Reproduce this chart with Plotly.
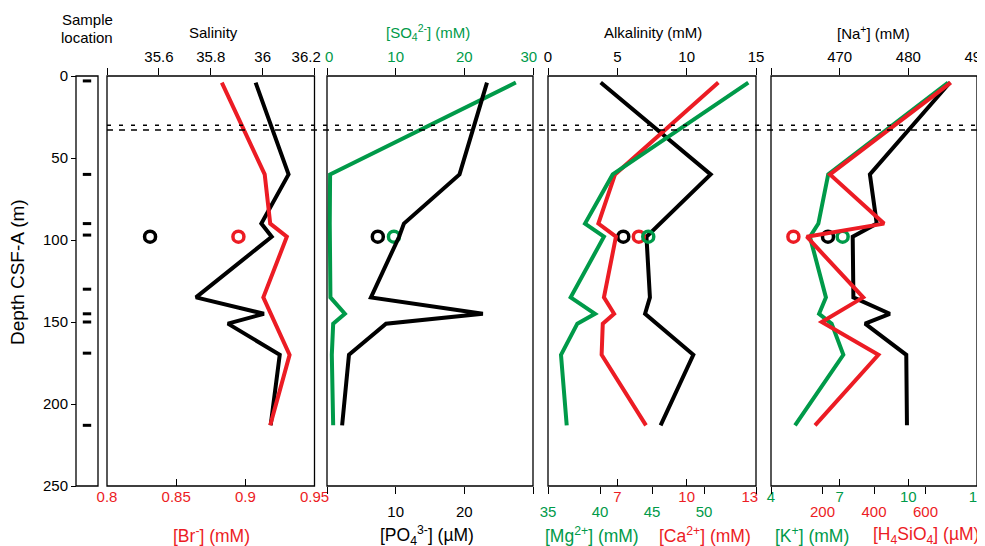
import plotly.graph_objects as go

# reference canvas is 985x546; the html body adds an 8px margin, so the figure
# is drawn 8px smaller and all reference pixel positions are shifted by 8px.
REF_W, REF_H = 985, 546
OFF = 8
W, H = REF_W - OFF, REF_H - OFF
def px(x): return (x - OFF) / W
def py(y): return 1 - (y - OFF) / H

RED = '#EC1C24'
GREEN = '#009A49'
BLACK = '#000000'
FONT = 'Liberation Sans, Arial, sans-serif'
NB = '\u00a0'

# ---------------- data ----------------
depth = [4, 60, 90, 98, 135, 145, 151, 170, 213]
sample_depths = [3, 60, 90, 97, 130, 145, 150, 169, 213]
interface_depths = [30, 33]

salinity = [35.973, 36.10, 35.995, 36.035, 35.743, 36.005, 35.866, 36.066, 36.031]
br_depth = [4, 60, 90, 98, 135, 170, 213]
br = [0.883, 0.914, 0.918, 0.930, 0.913, 0.932, 0.918]

po4 = [23.3, 19.3, 11.2, 10.5, 6.4, 22.7, 8.6, 3.2, 2.2]
so4 = [27.5, 0.45, 0.4, 0.4, 0.5, 2.6, 0.9, 0.7, 0.9]

alk_depth = [4, 60, 98, 135, 145, 170, 213]
alk = [3.8, 11.73, 7.1, 7.35, 7.0, 10.48, 8.12]
ca = [11.37, 6.9, 6.18, 6.94, 6.42, 6.86, 6.37, 6.32, 8.24]
mg = [54.26, 41.22, 38.56, 40.38, 37.18, 39.52, 37.82, 36.25, 36.8]

na = [486.06, 474.4, 475.4, 471.9, 472.0, 477.3, 473.7, 479.7, 479.8]
k = [11.74, 6.5, 6.07, 5.7, 6.4, 6.1, 6.65, 7.16, 5.05]
si_depth = [4, 60, 90, 98, 135, 150, 170, 213]
h4sio4 = [698, 229, 439, 139, 358, 197, 417, 171]

# isolated samples (open circles)
circle_depth = 98
circ_salinity, circ_br = 35.566, 0.895
circ_po4, circ_so4 = 7.4, 9.75
circ_alk, circ_ca, circ_mg = 5.43, 7.93, 44.64
circ_na, circ_k, circ_si = 468.3, 7.13, 87

fig = go.Figure()

def line(x, y, xa, color):
    fig.add_trace(go.Scatter(x=x, y=y, xaxis=xa, yaxis='y', mode='lines',
                             line=dict(color=color, width=4), showlegend=False,
                             hoverinfo='skip'))

def circ(x, xa, color):
    fig.add_trace(go.Scatter(x=[x], y=[circle_depth], xaxis=xa, yaxis='y', mode='markers',
                             marker=dict(symbol='circle-open', size=11, color=color,
                                         line=dict(width=3.5, color=color)),
                             showlegend=False, hoverinfo='skip'))

# sample location dashes
fig.add_trace(go.Scatter(x=[0.5] * len(sample_depths), y=sample_depths, xaxis='x', yaxis='y',
                         mode='markers', marker=dict(symbol='line-ew', size=6,
                                                     line=dict(width=3, color=BLACK)),
                         showlegend=False, hoverinfo='skip'))

line(salinity, depth, 'x2', BLACK)
line(br, br_depth, 'x3', RED)
line(po4, depth, 'x5', BLACK)
line(so4, depth, 'x4', GREEN)
line(alk, alk_depth, 'x6', BLACK)
line(ca, depth, 'x7', RED)
line(mg, depth, 'x8', GREEN)
line(na, depth, 'x9', BLACK)
line(k, depth, 'x10', GREEN)
line(h4sio4, si_depth, 'x11', RED)

circ(circ_salinity, 'x2', BLACK)
circ(circ_br, 'x3', RED)
circ(circ_po4, 'x5', BLACK)
circ(circ_so4, 'x4', GREEN)
circ(circ_alk, 'x6', BLACK)
circ(circ_ca, 'x7', RED)
circ(circ_mg, 'x8', GREEN)
circ(circ_na, 'x9', BLACK)
circ(circ_k, 'x10', GREEN)
circ(circ_si, 'x11', RED)

panels = {
    'strip': (76, 98),
    'p1': (107, 314.5),
    'p2': (327, 533),
    'p3': (548, 756),
    'p4': (771, 977),
}
Y_TOP, Y_BOT = 76, 486

def xax(dom=None, side='bottom', rng=None, vals=None, text=None, color=BLACK,
        ticks='outside', overlay=None, standoff=0):
    d = dict(side=side, range=rng, tickmode='array', tickvals=vals, ticktext=text,
             ticks=ticks, ticklen=7, tickwidth=1.3, tickcolor=BLACK,
             tickfont=dict(family=FONT, size=15, color=color),
             showgrid=False, zeroline=False, showline=False, anchor='y',
             automargin=False, fixedrange=True, ticklabelstandoff=standoff,
             ticklabeloverflow='allow')
    if overlay:
        d['overlaying'] = overlay
    else:
        d['domain'] = [px(dom[0]), px(dom[1])]
    return d

layout = dict(
    width=W, height=H, autosize=False, template='none',
    margin=dict(l=0, r=0, t=0, b=0),
    paper_bgcolor='white', plot_bgcolor='rgba(0,0,0,0)',
    showlegend=False,
    font=dict(family=FONT, size=15, color=BLACK),
    yaxis=dict(domain=[py(Y_BOT), py(Y_TOP)], range=[250, 0], anchor='free',
               position=px(76), tickmode='array', tickvals=[0, 50, 100, 150, 200, 250],
               ticks='outside', ticklen=5, tickwidth=1.3, tickcolor=BLACK,
               tickfont=dict(family=FONT, size=15), showgrid=False, zeroline=False,
               showline=False, automargin=False, fixedrange=True,
               ticklabeloverflow='allow'),
    xaxis=dict(domain=[px(76), px(98)], range=[0, 1], visible=False, anchor='y',
               fixedrange=True),
    xaxis2=xax(panels['p1'], 'top', [35.4, 36.2], [35.4, 35.6, 35.8, 36.0, 36.2],
               ['', '35.6', '35.8', '36', '36.2' + NB * 4]),
    xaxis3=xax(None, 'bottom', [0.8, 0.95], [0.8, 0.85, 0.9, 0.95],
               ['0.8', '0.85', '0.9', '0.95'], RED, 'inside', 'x2'),
    xaxis4=xax(panels['p2'], 'top', [0, 30], [0, 10, 20, 30],
               [NB + '0', '10', '20', '30' + NB * 2], GREEN),
    xaxis5=xax(None, 'bottom', [0, 30], [0, 10, 20, 30], ['', '10', '20', ''], BLACK,
               'outside', 'x4', 5),
    xaxis6=xax(panels['p3'], 'top', [0, 15], [0, 5, 10, 15], ['0', '5', '10', '15']),
    xaxis7=xax(None, 'bottom', [4, 13], [4, 7, 10, 13], ['', '7', '10', '13' + NB * 3], RED,
               'inside', 'x6'),
    xaxis8=xax(None, 'bottom', [35, 55], [35, 40, 45, 50, 55], ['35', '40', '45', '50', ''],
               GREEN, 'outside', 'x6', 5),
    xaxis9=xax(panels['p4'], 'top', [460, 490], [460, 470, 480, 490], ['', '470', '480', '490']),
    xaxis10=xax(None, 'bottom', [4, 13], [4, 7, 10, 13], ['4', '7', '10', '13'], GREEN,
                'inside', 'x9'),
    xaxis11=xax(None, 'bottom', [0, 800], [0, 200, 400, 600, 800], ['', '200', '400', '600', ''],
                RED, 'outside', 'x9', 5),
)
fig.update_layout(**layout)

# frames
shapes = []
for key, (x0, x1) in panels.items():
    shapes.append(dict(type='rect', xref='paper', yref='paper', x0=px(x0), x1=px(x1),
                       y0=py(Y_BOT), y1=py(Y_TOP), line=dict(color=BLACK, width=1.3),
                       fillcolor='rgba(0,0,0,0)', layer='above'))
# interface dashed lines
for d, dash in zip(interface_depths, ['4px,8px', '6px,6px']):
    shapes.append(dict(type='line', xref='paper', yref='y', x0=px(107), x1=px(977),
                       y0=d, y1=d, line=dict(color=BLACK, width=1.5, dash=dash)))
fig.update_layout(shapes=shapes)

def ann(text, x, y, color=BLACK, size=15, angle=0):
    fig.add_annotation(text=text, x=px(x), y=py(y), xref='paper', yref='paper',
                       showarrow=False, font=dict(family=FONT, size=size, color=color),
                       textangle=angle, xanchor='center', yanchor='middle')

ann('Sample', 87, 20)
ann('location', 87, 38)
ann('Salinity', 213, 33)
ann('[SO<sub>4</sub><sup>2-</sup>] (mM)', 428, 33, GREEN)
ann('Alkalinity (mM)', 653, 33)
ann('[Na<sup>+</sup>] (mM)', 873, 33)

ann('[Br<sup>-</sup>] (mM)', 211, 535, RED, 17.5)
ann('[PO<sub>4</sub><sup>3-</sup>] (µM)', 427, 535, BLACK, 17.5)
ann('[Mg<sup>2+</sup>] (mM)', 592, 535, GREEN, 17.5)
ann('[Ca<sup>2+</sup>] (mM)', 705, 535, RED, 17.5)
ann('[K<sup>+</sup>] (mM)', 812, 535, GREEN, 17.5)
ann('[H<sub>4</sub>SiO<sub>4</sub>] (µM)', 926, 535, RED, 17.5)

ann('Depth CSF-A (m)', 17, 272, BLACK, 19, -90)

fig.write_html('out.html')
